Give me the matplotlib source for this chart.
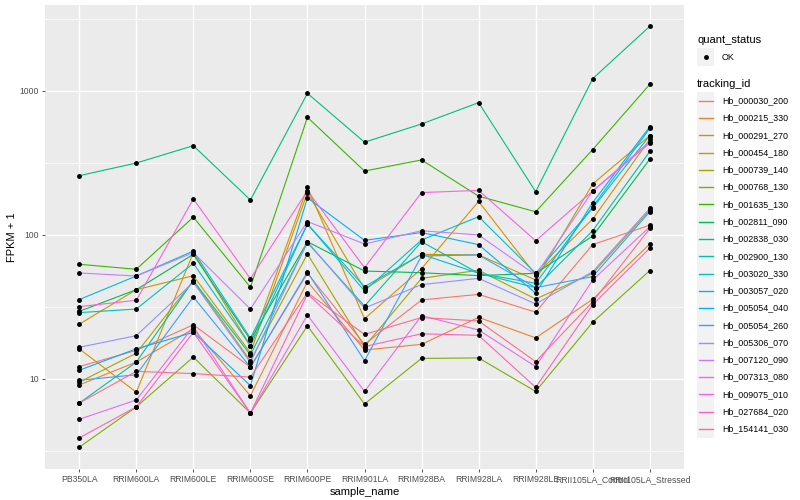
import matplotlib
matplotlib.use('Agg')
from matplotlib import pyplot as plt
from matplotlib.lines import Line2D
from matplotlib.patches import Rectangle

plt.rcParams['font.family'] = ['Liberation Sans', 'DejaVu Sans']

samples = ['PB350LA', 'RRIM600LA', 'RRIM600LE', 'RRIM600SE', 'RRIM600PE',
           'RRIM901LA', 'RRIM928BA', 'RRIM928LA', 'RRIM928LE',
           'RRII105LA_Control', 'RRII105LA_Stressed']

tracking_ids = ['Hb_000030_200', 'Hb_000215_330', 'Hb_000291_270', 'Hb_000454_180',
                'Hb_000739_140', 'Hb_000768_130', 'Hb_001635_130', 'Hb_002811_090',
                'Hb_002838_030', 'Hb_002900_130', 'Hb_003020_330', 'Hb_003057_020',
                'Hb_005054_040', 'Hb_005054_260', 'Hb_005306_070', 'Hb_007120_090',
                'Hb_007313_080', 'Hb_009075_010', 'Hb_027684_020', 'Hb_154141_030']

# ggplot2 default hue palette, 20 levels
colours = ['#F8766D', '#EA8331', '#D89000', '#C09B00', '#A3A500', '#7CAE00',
           '#39B600', '#00BB4E', '#00BF7D', '#00C1A3', '#00BFC4', '#00BAE0',
           '#00B0F6', '#35A2FF', '#9590FF', '#C77CFF', '#E76BF3', '#FA62DB',
           '#FF62BC', '#FF6C91']

# FPKM + 1, one list per tracking_id, in sample order
hb_000030_200 = [12.2, 15.8, 23.8, 12.1, 54.2, 17.4, 35.4, 38.7, 29.1, 85.7, 117]
hb_000215_330 = [9.1, 13.1, 22.3, 7.65, 47.4, 15.9, 17.4, 26.8, 19.3, 35.8, 86.6]
hb_000291_270 = [16.2, 8.1, 75.4, 17.0, 214, 26.2, 58.4, 171, 52.7, 129, 462]
hb_000454_180 = [24.0, 41.7, 52.1, 15.2, 197, 42.2, 73.4, 72.7, 48.7, 226, 490]
hb_000739_140 = [9.5, 15.1, 48.2, 13.4, 73.8, 16.8, 50.0, 56.9, 35.9, 54.2, 149]
hb_000768_130 = [3.36, 6.4, 14.2, 5.8, 23.4, 6.7, 13.9, 14.0, 8.2, 24.8, 56.6]
hb_001635_130 = [62.6, 57.8, 133, 43.4, 656, 278, 332, 186, 145, 392, 1112]
hb_002811_090 = [29.5, 41.7, 73.4, 18.7, 89.8, 56.2, 54.7, 52.2, 54.2, 98.4, 336]
hb_002838_030 = [258, 316, 417, 175, 963, 441, 590, 830, 200, 1218, 2812]
hb_002900_130 = [6.8, 13.1, 48.2, 14.7, 88.4, 32.1, 89.8, 54.2, 43.1, 107, 380]
hb_003020_330 = [28.9, 30.6, 63.6, 17.0, 119, 40.9, 92.3, 134, 54.2, 154, 490]
hb_003057_020 = [35.6, 51.9, 77.4, 19.2, 119, 43.8, 73.4, 54.2, 46.2, 157, 550]
hb_005054_040 = [11.5, 16.2, 21.1, 9.0, 181, 91.8, 104, 85.7, 39.4, 168, 565]
hb_005054_260 = [9.8, 10.7, 37.1, 12.1, 55.3, 13.4, 71.5, 72.7, 43.1, 51.4, 145]
hb_005306_070 = [16.6, 20.0, 46.9, 13.0, 89.8, 31.1, 45.2, 50.0, 33.2, 55.6, 153]
hb_007120_090 = [54.5, 51.9, 75.4, 30.6, 124, 86.6, 107, 100, 52.7, 202, 434]
hb_007313_080 = [5.25, 7.15, 23.1, 5.8, 27.8, 8.2, 27.5, 21.9, 12.2, 48.7, 114]
hb_009075_010 = [31.8, 35.2, 178, 49.7, 203, 59.3, 197, 204, 91.2, 202, 445]
hb_027684_020 = [3.9, 6.4, 21.1, 5.8, 38.9, 16.8, 20.6, 20.1, 8.75, 32.8, 81]
hb_154141_030 = [6.8, 11.3, 10.9, 10.3, 39.7, 20.4, 26.7, 25.3, 13.2, 34.4, 111]

series = [hb_000030_200, hb_000215_330, hb_000291_270, hb_000454_180,
          hb_000739_140, hb_000768_130, hb_001635_130, hb_002811_090,
          hb_002838_030, hb_002900_130, hb_003020_330, hb_003057_020,
          hb_005054_040, hb_005054_260, hb_005306_070, hb_007120_090,
          hb_007313_080, hb_009075_010, hb_027684_020, hb_154141_030]

W, H = 800, 500
fig = plt.figure(figsize=(8, 5), dpi=100)
ax = fig.add_axes([45 / W, 1 - 469 / H, (684 - 45) / W, (469 - 5) / H])
ax.set_facecolor('#EBEBEB')

x = list(range(len(samples)))
for vals, col in zip(series, colours):
    ax.plot(x, vals, color=col, lw=0.8, zorder=3)
for vals in series:
    ax.plot(x, vals, ls='none', marker='o', ms=2.5, color='black', zorder=4)

ax.set_yscale('log')
ax.set_ylim(10 ** 0.375, 10 ** 3.597)
ax.set_xlim(-0.6, len(samples) - 0.4)

ax.set_xticks(x)
ax.set_xticklabels(samples)
ax.set_yticks([10, 100, 1000])
ax.set_yticklabels(['10', '100', '1000'])
ax.set_yticks([10 ** 0.5, 10 ** 1.5, 10 ** 2.5, 10 ** 3.5], minor=True)
ax.yaxis.set_minor_formatter(plt.NullFormatter())
ax.tick_params(which='major', length=2.2, width=0.6, color='#333333',
               labelsize=6.2, labelcolor='#4D4D4D', pad=2)
ax.tick_params(which='minor', length=0)

ax.grid(which='major', color='white', lw=1.0, zorder=0)
ax.grid(which='minor', axis='y', color='white', lw=0.5, zorder=0)
ax.set_axisbelow(True)
for s in ax.spines.values():
    s.set_visible(False)

ax.set_xlabel('sample_name', fontsize=8, labelpad=2)
ax.set_ylabel('FPKM + 1', fontsize=8, labelpad=2)


def fx(px):
    return px / W


def fy(py):
    return 1 - py / H


# legend: quant_status
fig.text(fx(697), fy(40), 'quant_status', fontsize=8, va='center', ha='left')
fig.add_artist(Rectangle((fx(697), fy(57 + 8.6)), 17.3 / W, 17.3 / H,
                         transform=fig.transFigure, color='#F2F2F2', lw=0))
fig.add_artist(Line2D([fx(705.6)], [fy(57)], transform=fig.transFigure,
                      marker='o', ms=2.5, color='black', ls='none'))
fig.text(fx(722), fy(57), 'OK', fontsize=6.4, va='center', ha='left')

# legend: tracking_id
fig.text(fx(697), fy(84), 'tracking_id', fontsize=8, va='center', ha='left')
for i, (name, col) in enumerate(zip(tracking_ids, colours)):
    yc = 100.7 + i * 17.28
    fig.add_artist(Rectangle((fx(697), fy(yc + 8.6)), 17.3 / W, 17.3 / H,
                             transform=fig.transFigure, color='#F2F2F2', lw=0))
    fig.add_artist(Line2D([fx(698.5), fx(712.5)], [fy(yc), fy(yc)],
                          transform=fig.transFigure, color=col, lw=1.0))
    fig.text(fx(722), fy(yc), name, fontsize=6.4, va='center', ha='left')

fig.savefig('out.png', dpi=100)
